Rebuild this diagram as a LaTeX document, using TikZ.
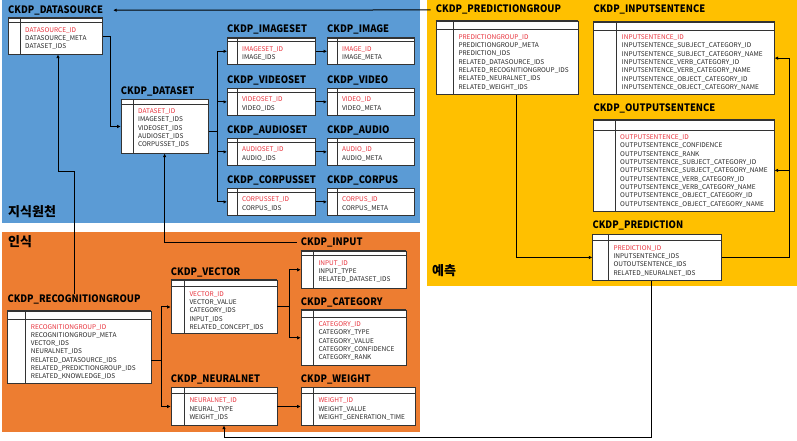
\documentclass[tikz,border=0pt]{standalone}
\usepackage{fontspec}
\setmainfont{Noto Sans CJK KR}
\newfontfamily\ttlfont[FakeStretch=0.92]{Noto Sans CJK KR}
\usetikzlibrary{arrows.meta,calc}
\definecolor{pblue}{HTML}{5B9BD5}
\definecolor{porange}{HTML}{ED7D31}
\definecolor{pyellow}{HTML}{FFC000}
\definecolor{idred}{HTML}{E8323C}
\definecolor{txt}{HTML}{262626}
\tikzset{
 tbl/.style={draw=black!80, fill=white, line width=0.6pt, inner sep=0pt, anchor=north west},
 tline/.style={draw=black!80, line width=0.6pt},
 ttitle/.style={inner sep=0pt, anchor=base west, font=\ttlfont\fontsize{10.2}{12}\selectfont\bfseries, text=black},
 fld/.style={inner sep=0pt, anchor=base west, font=\fontsize{6.5}{8}\selectfont, text=txt},
 conn/.style={draw=black, line width=1pt, -{Latex[length=3.5pt,width=3.5pt]}},
 link/.style={draw=black, line width=1pt},
 area/.style={inner sep=0pt, anchor=west, font=\fontsize{13}{15}\selectfont\bfseries, text=black},
}
% #1 name, #2 pos, #3 width, #4 height, #5 header h, #6 column w, #7 title gap, #8 title, #9 fields
\newcommand\dbtable[9]{%
 \node[tbl, minimum width=#3pt, minimum height=#4pt] (#1) at (#2) {};
 \draw[tline] ([yshift=-#5pt]#1.north west) -- ([yshift=-#5pt]#1.north east);
 \draw[tline] ([xshift=#6pt]#1.north west) -- ([xshift=#6pt]#1.south west);
 \draw[draw=black!80, line width=1.1pt] (#1.north west) -- (#1.north east);
 \node[ttitle] (#1-t) at ([yshift=#7pt-3.7pt]#1.north west) {#8};
 \foreach \f [count=\i] in {#9} {
   \node[fld] at ([xshift=#6pt+5pt, yshift=-#5pt-9.6pt-\i*8.3pt+8.3pt]#1.north west) {\ifnum\i=1 \color{idred}\fi\f};
 }
}
\begin{document}
\begin{tikzpicture}[x=1pt,y=-1pt]
\useasboundingbox (0,0) rectangle (797,441);
\fill[white] (0,0) rectangle (797,441);
% panels
\fill[pblue] (2,0) rectangle (420,223);
\fill[porange] (2,232) rectangle (420,432);
\fill[pyellow] (427,0) rectangle (797,286);
\node[area] (lbl-k) at (8,211.7) {지식원천};
\node[area] (lbl-r) at (8,241.7) {인식};
\node[area] (lbl-p) at (432,271) {예측};
% tables
\dbtable{ds}{8,18}{94}{36}{4.5}{12}{8.5}{CKDP\_DATASOURCE}{DATASOURCE\_ID,DATASOURCE\_META,DATASET\_IDS}
\dbtable{dset}{120.7,99.3}{87.3}{53.7}{4.7}{12.3}{8.8}{CKDP\_DATASET}{DATASET\_ID,IMAGESET\_IDS,VIDEOSET\_IDS,AUDIOSET\_IDS,CORPUSSET\_IDS}
\dbtable{iset}{227,37.7}{88}{26.6}{4}{10}{8.7}{CKDP\_IMAGESET}{IMAGESET\_ID,IMAGE\_IDS}
\dbtable{img}{327,37.7}{87}{26.6}{4}{10}{8.7}{CKDP\_IMAGE}{IMAGE\_ID,IMAGE\_META}
\dbtable{vset}{227,88.3}{88}{26.6}{4}{10}{8.7}{CKDP\_VIDEOSET}{VIDEOSET\_ID,VIDEO\_IDS}
\dbtable{vid}{327,88.3}{87}{26.6}{4}{10}{8.7}{CKDP\_VIDEO}{VIDEO\_ID,VIDEO\_META}
\dbtable{aset}{227,138.3}{88}{26.6}{4}{10}{8.7}{CKDP\_AUDIOSET}{AUDIOSET\_ID,AUDIO\_IDS}
\dbtable{aud}{327,138.3}{87}{26.6}{4}{10}{8.7}{CKDP\_AUDIO}{AUDIO\_ID,AUDIO\_META}
\dbtable{cset}{227,188.3}{88}{26.6}{4}{10}{8.7}{CKDP\_CORPUSSET}{CORPUSSET\_ID,CORPUS\_IDS}
\dbtable{cor}{327,188.3}{87}{26.6}{4}{10}{8.7}{CKDP\_CORPUS}{CORPUS\_ID,CORPUS\_META}
\dbtable{pg}{435.7,20.7}{142}{73.6}{9}{17.6}{11.4}{CKDP\_PREDICTIONGROUP}{PREDICTIONGROUP\_ID,PREDICTIONGROUP\_META,PREDICTION\_IDS,RELATED\_DATASOURCE\_IDS,RELATED\_RECOGNITIONGROUP\_IDS,RELATED\_NEURALNET\_IDS,RELATED\_WEIGHT\_IDS}
\dbtable{tis}{593.3,21.7}{180.7}{72.3}{8.3}{23.4}{12.4}{CKDP\_INPUTSENTENCE}{INPUTSENTENCE\_ID,INPUTSENTENCE\_SUBJECT\_CATEGORY\_ID,INPUTSENTENCE\_SUBJECT\_CATEGORY\_NAME,INPUTSENTENCE\_VERB\_CATEGORY\_ID,INPUTSENTENCE\_VERB\_CATEGORY\_NAME,INPUTSENTENCE\_OBJECT\_CATEGORY\_ID,INPUTSENTENCE\_OBJECT\_CATEGORY\_NAME}
\dbtable{tos}{593.3,120}{180.7}{90.7}{10}{21.7}{11.7}{CKDP\_OUTPUTSENTENCE}{OUTPUTSENTENCE\_ID,OUTPUTSENTENCE\_CONFIDENCE,OUTPUTSENTENCE\_RANK,OUTPUTSENTENCE\_SUBJECT\_CATEGORY\_ID,OUTPUTSENTENCE\_SUBJECT\_CATEGORY\_NAME,OUTPUTSENTENCE\_VERB\_CATEGORY\_ID,OUTPUTSENTENCE\_VERB\_CATEGORY\_NAME,OUTPUTSENTENCE\_OBJECT\_CATEGORY\_ID,OUTPUTSENTENCE\_OBJECT\_CATEGORY\_NAME}
\dbtable{pr}{592.3,234.3}{128.7}{45.7}{6.4}{16}{9.3}{CKDP\_PREDICTION}{PREDICTION\_ID,INPUTSENTENCE\_IDS,OUTOUTSENTENCE\_IDS,RELATED\_NEURALNET\_IDS}
\dbtable{rg}{7.3,310.7}{143.4}{72}{8.7}{18.4}{12.4}{CKDP\_RECOGNITIONGROUP}{RECOGNITIONGROUP\_ID,RECOGNITIONGROUP\_META,VECTOR\_IDS,NEURALNET\_IDS,RELATED\_DATASOURCE\_IDS,RELATED\_PREDICTIONGROUP\_IDS,RELATED\_KNOWLEDGE\_IDS}
\dbtable{vec}{170.7,280}{106}{53.3}{6.7}{13.6}{8.3}{CKDP\_VECTOR}{VECTOR\_ID,VECTOR\_VALUE,CATEGORY\_IDS,INPUT\_IDS,RELATED\_CONCEPT\_IDS}
\dbtable{nn}{170.7,387.3}{106}{37.7}{6}{13.6}{9}{CKDP\_NEURALNET}{NEURALNET\_ID,NEURAL\_TYPE,WEIGHT\_IDS}
\dbtable{tin}{300.7,250.7}{105}{37.6}{5}{12.6}{9}{CKDP\_INPUT}{INPUT\_ID,INPUT\_TYPE,RELATED\_DATASET\_IDS}
\dbtable{cat}{300.7,310}{105}{55}{7}{12.6}{8.3}{CKDP\_CATEGORY}{CATEGORY\_ID,CATEGORY\_TYPE,CATEGORY\_VALUE,CATEGORY\_CONFIDENCE,CATEGORY\_RANK}
\dbtable{wt}{300.7,387.3}{114.3}{37.7}{6}{12.6}{9}{CKDP\_WEIGHT}{WEIGHT\_ID,WEIGHT\_VALUE,WEIGHT\_GENERATION\_TIME}
% helper coordinates
\coordinate (dbus) at (217.5,0);
\coordinate (vbus) at (289,0);
\coordinate (rbus) at (161,0);
\coordinate (pbus) at (789,0);
\coordinate (low) at (0,437);
\coordinate (jog) at (58,171.7);
\coordinate (dsout) at ([yshift=-5.5pt]dset.east);
\coordinate (rgout) at ([yshift=-13.3pt]rg.east);
\coordinate (osin) at ([yshift=-4.7pt]tos.east);
\coordinate (prs) at ([xshift=-5.7pt]pr.south);
\coordinate (pgs) at ([xshift=9pt]pg.south);
% connectors
\draw[conn] ([xshift=-5pt]pg-t.west) -- ([xshift=10pt]ds-t.east);
\draw[conn] (ds.east) -- ++(8,0) |- (dset.west);
\draw[link] (dsout) -- (dsout -| dbus);
\draw[link] (dbus |- iset.west) -- (dbus |- cset.west);
\foreach \t in {iset,vset,aset,cset} \draw[conn] (dbus |- \t.west) -- (\t.west);
\draw[conn] (iset.east) -- (img.west);
\draw[conn] (vset.east) -- (vid.west);
\draw[conn] (aset.east) -- (aud.west);
\draw[conn] (cset.east) -- (cor.west);
\draw[conn] (rg-t.north) |- (jog) -- (jog |- ds.south);
\draw[conn] ([xshift=-4pt]tin-t.west) -| (dset.south);
\draw[link] (rgout) -- (rgout -| rbus);
\draw[link] (rbus |- vec.west) -- (rbus |- nn.west);
\draw[conn] (rbus |- vec.west) -- (vec.west);
\draw[conn] (rbus |- nn.west) -- (nn.west);
\draw[link] (vec.east) -- (vec.east -| vbus);
\draw[link] (vbus |- tin.west) -- (vbus |- cat.west);
\draw[conn] (vbus |- tin.west) -- (tin.west);
\draw[conn] (vbus |- cat.west) -- (cat.west);
\draw[conn] (nn.east) -- (wt.west);
\draw[conn] (pgs) |- (pr.west);
\draw[link] (pr.east) -- (pr.east -| pbus) -- (pbus |- tis.east);
\draw[conn] (pbus |- tis.east) -- (tis.east);
\draw[conn] (pbus |- osin) -- (osin);
\draw[conn] (prs) -- (prs |- low) -| (nn.south);
\end{tikzpicture}
\end{document}
